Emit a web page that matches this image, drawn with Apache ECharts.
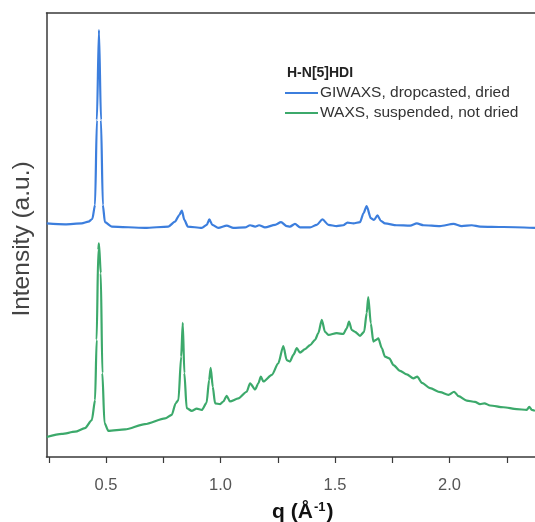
<!DOCTYPE html>
<html>
<head>
<meta charset="utf-8">
<script src="https://cdn.jsdelivr.net/npm/echarts@6/dist/echarts.min.js"></script>
<style>
  html, body { margin: 0; padding: 0; background: #fff; }
  #chart { width: 535px; height: 522px; }
</style>
</head>
<body>
<div id="chart"></div>
<script>
// H-N[5]HDI scattering profiles, intensity (a.u.) versus q (1/Å)
const seriesNames = ['GIWAXS, dropcasted, dried', 'WAXS, suspended, not dried'];
const legendTitle = 'H-N[5]HDI';

// GIWAXS, dropcasted and dried (offset upward)
const qGiwaxs = [0.241, 0.321, 0.394, 0.423, 0.440, 0.452, 0.460, 0.469, 0.478, 0.486, 0.495, 0.525,
  0.670, 0.772, 0.801, 0.820, 0.831, 0.842, 0.857, 0.918, 0.940, 0.951, 0.964, 0.990,
  1.027, 1.056, 1.107, 1.129, 1.151, 1.168, 1.194, 1.238, 1.264, 1.289, 1.303, 1.325,
  1.347, 1.391, 1.420, 1.445, 1.471, 1.507, 1.536, 1.554, 1.580, 1.609, 1.624, 1.638,
  1.656, 1.670, 1.685, 1.700, 1.718, 1.769, 1.828, 1.857, 1.886, 1.958, 2.017, 2.053,
  2.097, 2.133, 2.235, 2.373];
const iGiwaxs = [52.6, 52.4, 52.6, 53.0, 53.6, 56.8, 75.9, 96.2, 75.9, 56.8, 52.9, 51.9,
  51.6, 51.9, 53.0, 54.5, 55.5, 53.4, 51.9, 51.6, 52.3, 53.5, 52.3, 51.6,
  52.1, 51.6, 51.7, 52.2, 51.9, 52.2, 51.7, 52.3, 52.9, 52.0, 51.9, 52.5,
  51.7, 51.7, 52.3, 53.5, 52.3, 52.0, 52.2, 52.8, 52.6, 52.9, 54.9, 56.5,
  53.8, 53.4, 54.4, 53.2, 52.6, 52.2, 52.1, 52.6, 52.2, 52.0, 52.5, 52.0,
  52.2, 51.9, 51.8, 51.6];

// WAXS, suspended and not dried
const qWaxs = [0.241, 0.307, 0.365, 0.408, 0.438, 0.452, 0.459, 0.466, 0.469, 0.477, 0.484, 0.493,
  0.510, 0.583, 0.670, 0.758, 0.787, 0.804, 0.816, 0.828, 0.835, 0.842, 0.852, 0.874,
  0.896, 0.918, 0.939, 0.950, 0.957, 0.966, 0.976, 0.998, 1.012, 1.027, 1.041, 1.078,
  1.114, 1.129, 1.151, 1.165, 1.176, 1.187, 1.224, 1.252, 1.274, 1.289, 1.303, 1.318,
  1.333, 1.347, 1.369, 1.391, 1.413, 1.427, 1.442, 1.456, 1.471, 1.507, 1.536, 1.551,
  1.561, 1.573, 1.587, 1.609, 1.627, 1.638, 1.645, 1.656, 1.667, 1.679, 1.689, 1.704,
  1.718, 1.737, 1.755, 1.784, 1.813, 1.842, 1.859, 1.879, 1.915, 1.959, 1.995, 2.020,
  2.039, 2.075, 2.111, 2.133, 2.152, 2.177, 2.235, 2.293, 2.337, 2.348, 2.359, 2.373];
const iWaxs = [4.5, 5.2, 5.7, 6.5, 8.3, 12.8, 26.4, 46.6, 48.1, 41.4, 18.9, 7.7,
  5.9, 6.2, 7.4, 8.7, 9.5, 12.1, 12.8, 22.6, 30.2, 18.9, 11.0, 10.4,
  10.9, 10.6, 12.2, 17.3, 20.1, 15.8, 12.1, 11.9, 12.5, 13.8, 12.5, 13.2,
  14.7, 16.6, 15.2, 16.6, 18.1, 17.0, 18.5, 21.1, 25.0, 21.8, 21.5, 23.0,
  24.5, 23.5, 24.3, 25.2, 26.4, 27.9, 30.9, 28.2, 27.5, 27.9, 27.7, 29.0,
  30.5, 28.6, 28.2, 27.3, 28.2, 32.4, 36.0, 30.1, 26.0, 26.4, 26.7, 24.5,
  22.6, 22.2, 20.7, 19.4, 18.6, 17.7, 18.1, 16.7, 15.5, 14.6, 14.0, 14.7,
  13.7, 12.7, 12.4, 11.9, 12.1, 11.6, 11.2, 10.8, 10.6, 11.3, 10.6, 10.4];

// x-axis ticks and labels
const qTicks = [0.25, 0.5, 0.75, 1.0, 1.25, 1.5, 1.75, 2.0, 2.25];
const qLabels = [0.5, 1.0, 1.5, 2.0];

const blue = '#3c7edd';
const green = '#3ca96b';
const axisColor = '#3a3a3a';
const font = 'Liberation Sans, Arial, sans-serif';

const pairs = (xs, ys) => xs.map((x, i) => [x, ys[i]]);

const chart = echarts.init(document.getElementById('chart'), null, { renderer: 'canvas' });
chart.setOption({
  animation: false,
  backgroundColor: '#ffffff',
  textStyle: { fontFamily: font },
  title: {
    text: legendTitle,
    left: 287,
    top: 66,
    padding: 0,
    textStyle: { fontSize: 14, fontWeight: 'bold', color: '#222', fontFamily: font }
  },
  legend: {
    orient: 'vertical',
    left: 285,
    top: 85,
    itemWidth: 33,
    itemHeight: 2,
    itemGap: 4,
    icon: 'rect',
    padding: 0,
    textStyle: { fontSize: 15.5, color: '#333', lineHeight: 16, padding: [0, 0, 0, -3] },
    data: seriesNames
  },
  grid: { left: 46.5, right: 0, top: 13, bottom: 65, containLabel: false, outerBoundsMode: 'none' },
  xAxis: [{
    type: 'value',
    min: 0.24,
    max: 2.373,
    position: 'bottom',
    splitLine: { show: false },
    axisLine: { lineStyle: { color: axisColor, width: 1.5 } },
    axisTick: { customValues: qTicks, length: 6, inside: false, lineStyle: { color: axisColor, width: 1.2 } },
    axisLabel: {
      customValues: qLabels,
      formatter: v => v.toFixed(1),
      fontSize: 16.5,
      color: '#555',
      margin: 20
    },
    name: '{b|q (Å}{s|-1}{b|)}',
    nameLocation: 'middle',
    nameGap: 44,
    nameTextStyle: {
      padding: [0, 0, 0, 24],
      rich: {
        b: { fontSize: 21, fontWeight: 'bold', color: '#111', fontFamily: font },
        s: { fontSize: 13, fontWeight: 'bold', color: '#111', verticalAlign: 'top', padding: [0, 1, 10, 1], fontFamily: font }
      }
    }
  }, {
    // top frame line
    type: 'value',
    min: 0.24,
    max: 2.373,
    position: 'top',
    splitLine: { show: false },
    axisLine: { lineStyle: { color: axisColor, width: 1.5 } },
    axisTick: { show: false },
    axisLabel: { show: false }
  }],
  yAxis: {
    type: 'value',
    min: 0,
    max: 100,
    splitLine: { show: false },
    axisLine: { show: true, lineStyle: { color: axisColor, width: 1.5 } },
    axisTick: { show: false },
    axisLabel: { show: false },
    name: 'Intensity (a.u.)',
    nameLocation: 'middle',
    nameGap: 12,
    nameTextStyle: { fontSize: 24.5, color: '#444', padding: [0, 8, 0, 0] }
  },
  series: [{
    name: seriesNames[0],
    type: 'line',
    xAxisIndex: 0,
    data: pairs(qGiwaxs, iGiwaxs),
    showSymbol: false,
    smooth: 0.25,
    smoothMonotone: 'x',
    color: blue,
    lineStyle: { color: blue, width: 2.2 },
    z: 3
  }, {
    name: seriesNames[1],
    type: 'line',
    xAxisIndex: 0,
    data: pairs(qWaxs, iWaxs),
    showSymbol: false,
    smooth: 0.25,
    smoothMonotone: 'x',
    color: green,
    lineStyle: { color: green, width: 2.2 },
    z: 2
  }]
});
</script>
</body>
</html>
